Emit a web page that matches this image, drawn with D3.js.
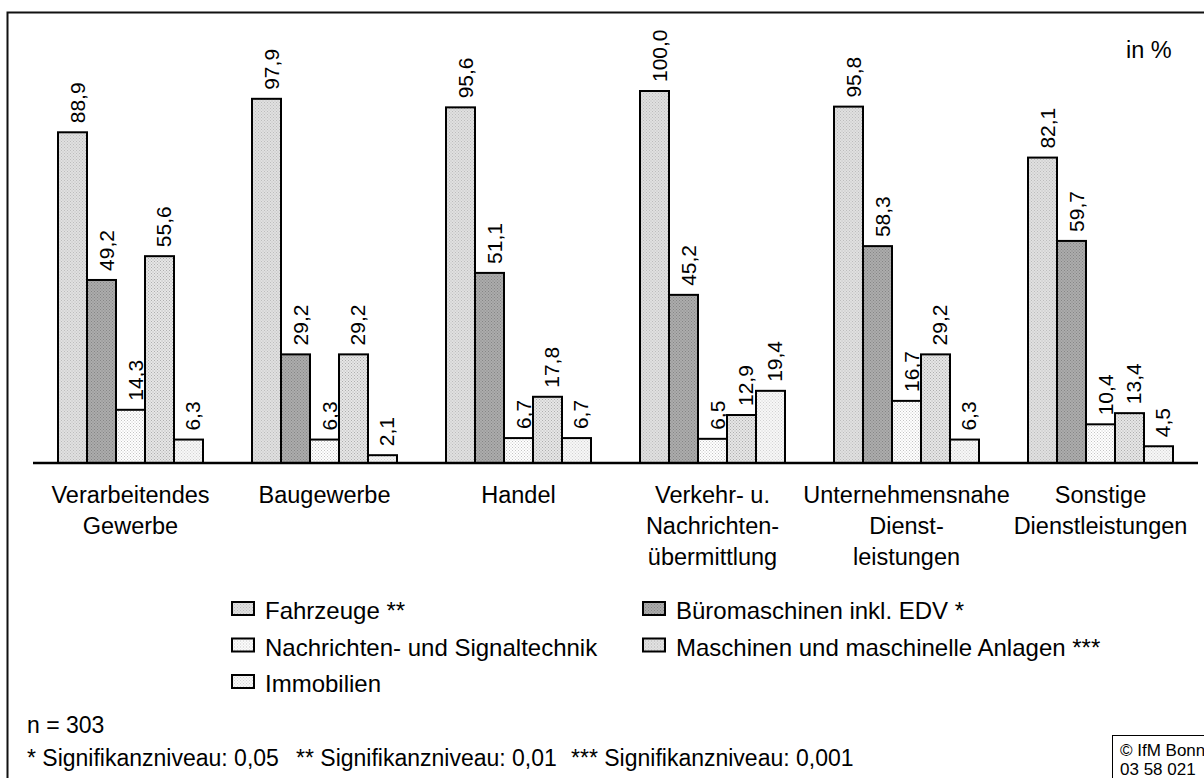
<!DOCTYPE html>
<html lang="de">
<head>
<meta charset="UTF-8">
<title>Branchen</title>
<script src="https://d3js.org/d3.v7.min.js"></script>
<style>
    body, html { margin: 0; padding: 0; background: #fff; }
    text { font-family: Arial, "Liberation Sans", sans-serif; fill: #000; }
</style>
</head>
<body>
<div id="chart"></div>
<script>
    // Wirtschaftszweige
    const categories = ["Verarbeitendes Gewerbe", "Baugewerbe", "Handel",
        "Verkehr- u. Nachrichtenübermittlung", "Unternehmensnahe Dienstleistungen", "Sonstige Dienstleistungen"];
    const categoryLines = [
        ["Verarbeitendes", "Gewerbe"],
        ["Baugewerbe"],
        ["Handel"],
        ["Verkehr- u.", "Nachrichten-", "übermittlung"],
        ["Unternehmensnahe", "Dienst-", "leistungen"],
        ["Sonstige", "Dienstleistungen"]
    ];

    const seriesNames = ["Fahrzeuge **", "Büromaschinen inkl. EDV *", "Nachrichten- und Signaltechnik",
        "Maschinen und maschinelle Anlagen ***", "Immobilien"];

    const fahrzeuge = [88.9, 97.9, 95.6, 100.0, 95.8, 82.1];
    const bueromaschinen = [49.2, 29.2, 51.1, 45.2, 58.3, 59.7];
    const nachrichtentechnik = [14.3, 6.3, 6.7, 6.5, 16.7, 10.4];
    const maschinen = [55.6, 29.2, 17.8, 12.9, 29.2, 13.4];
    const immobilien = [6.3, 2.1, 6.7, 19.4, 6.3, 4.5];

    const series = [fahrzeuge, bueromaschinen, nachrichtentechnik, maschinen, immobilien];

    const width = 1204, height = 778;
    const fs = "23.5px";

    const svg = d3.select("#chart").append("svg")
        .attr("width", width)
        .attr("height", height);

    // dotted fills
    const defs = svg.append("defs");
    const patterns = [
        { id: "p0", bg: "#e0e0e0", dot: "#bcbcbc" },
        { id: "p1", bg: "#acacac", dot: "#858585" },
        { id: "p2", bg: "#ffffff", dot: "#c4c4c4" },
        { id: "p3", bg: "#e6e6e6", dot: "#aeaeae" },
        { id: "p4", bg: "#f7f7f7", dot: "#d2d2d2" }
    ];
    patterns.forEach(p => {
        const pat = defs.append("pattern")
            .attr("id", p.id)
            .attr("width", 3).attr("height", 3)
            .attr("patternUnits", "userSpaceOnUse");
        pat.append("rect").attr("width", 3).attr("height", 3).attr("fill", p.bg);
        pat.append("rect").attr("x", 0).attr("y", 0).attr("width", 1).attr("height", 1).attr("fill", p.dot);
        pat.append("rect").attr("x", 1.5).attr("y", 1.5).attr("width", 1).attr("height", 1).attr("fill", p.dot);
    });

    // outer frame (runs off the right/bottom edge)
    svg.append("rect")
        .attr("x", 7.5).attr("y", 12.5)
        .attr("width", 1210).attr("height", 780)
        .attr("fill", "none")
        .attr("stroke", "#111")
        .attr("stroke-width", 2);

    const x0 = d3.scaleBand()
        .domain(categories)
        .range([33.5, 1197.5])
        .paddingInner(0.2526)
        .paddingOuter(0.1263);

    const x1 = d3.scaleBand()
        .domain(d3.range(series.length))
        .range([0, x0.bandwidth()]);

    const y = d3.scaleLinear()
        .domain([0, 100])
        .range([463, 91]);

    const fmt = v => d3.format(".1f")(v).replace(".", ",");

    const groups = svg.append("g").selectAll("g")
        .data(categories)
        .join("g")
        .attr("transform", d => `translate(${x0(d)},0)`);

    groups.selectAll("rect")
        .data((d, ci) => series.map((s, si) => ({ si, v: s[ci] })))
        .join("rect")
        .attr("x", d => x1(d.si))
        .attr("y", d => y(d.v))
        .attr("width", x1.bandwidth())
        .attr("height", d => y(0) - y(d.v))
        .attr("fill", d => `url(#p${d.si})`)
        .attr("stroke", "#000")
        .attr("stroke-width", 2);

    groups.selectAll("text.val")
        .data((d, ci) => series.map((s, si) => ({ si, v: s[ci] })))
        .join("text")
        .attr("class", "val")
        .attr("transform", d => `translate(${x1(d.si) + x1.bandwidth() / 2},${y(d.v) - 9}) rotate(-90)`)
        .attr("dy", 12)
        .style("font-size", "21px")
        .text(d => fmt(d.v));

    // baseline
    svg.append("line")
        .attr("x1", 33).attr("x2", 1198)
        .attr("y1", y(0)).attr("y2", y(0))
        .attr("stroke", "#000")
        .attr("stroke-width", 2.5);

    // category labels
    svg.append("g").selectAll("text")
        .data(categories)
        .join("text")
        .attr("x", d => x0(d) + x0.bandwidth() / 2)
        .attr("y", 503)
        .attr("text-anchor", "middle")
        .style("font-size", fs)
        .each(function (d, i) {
            d3.select(this).selectAll("tspan")
                .data(categoryLines[i])
                .join("tspan")
                .attr("x", x0(d) + x0.bandwidth() / 2)
                .attr("dy", (t, j) => j === 0 ? 0 : 31)
                .text(t => t);
        });

    svg.append("text")
        .attr("x", 1126).attr("y", 58)
        .style("font-size", fs)
        .text("in %");

    // legend
    const legendPos = [
        [231, 601], [642, 601],
        [231, 637.5], [642, 637.5],
        [231, 674]
    ];
    const legend = svg.append("g").selectAll("g")
        .data(seriesNames)
        .join("g")
        .attr("transform", (d, i) => `translate(${legendPos[i][0]},${legendPos[i][1]})`);
    legend.append("rect")
        .attr("x", 1).attr("y", 1)
        .attr("width", 22).attr("height", 13)
        .attr("fill", (d, i) => `url(#p${i})`)
        .attr("stroke", "#000")
        .attr("stroke-width", 2);
    legend.append("text")
        .attr("x", 34).attr("y", 18)
        .style("font-size", "24px")
        .text(d => d);

    // notes
    svg.append("text").attr("x", 27).attr("y", 733).style("font-size", "23px").text("n = 303");
    const notes = ["* Signifikanzniveau: 0,05", "** Signifikanzniveau: 0,01", "*** Signifikanzniveau: 0,001"];
    const noteX = [27, 296, 571];
    svg.append("g").selectAll("text")
        .data(notes)
        .join("text")
        .attr("x", (d, i) => noteX[i])
        .attr("y", 766)
        .style("font-size", "23px")
        .text(d => d);

    // copyright box
    svg.append("rect")
        .attr("x", 1112.5).attr("y", 735.5)
        .attr("width", 120).attr("height", 60)
        .attr("fill", "#fff")
        .attr("stroke", "#000")
        .attr("stroke-width", 1);
    svg.append("text").attr("x", 1120).attr("y", 756).style("font-size", "17px").text("© IfM Bonn");
    svg.append("text").attr("x", 1120).attr("y", 775).style("font-size", "17px").text("03 58 021");
</script>
</body>
</html>
